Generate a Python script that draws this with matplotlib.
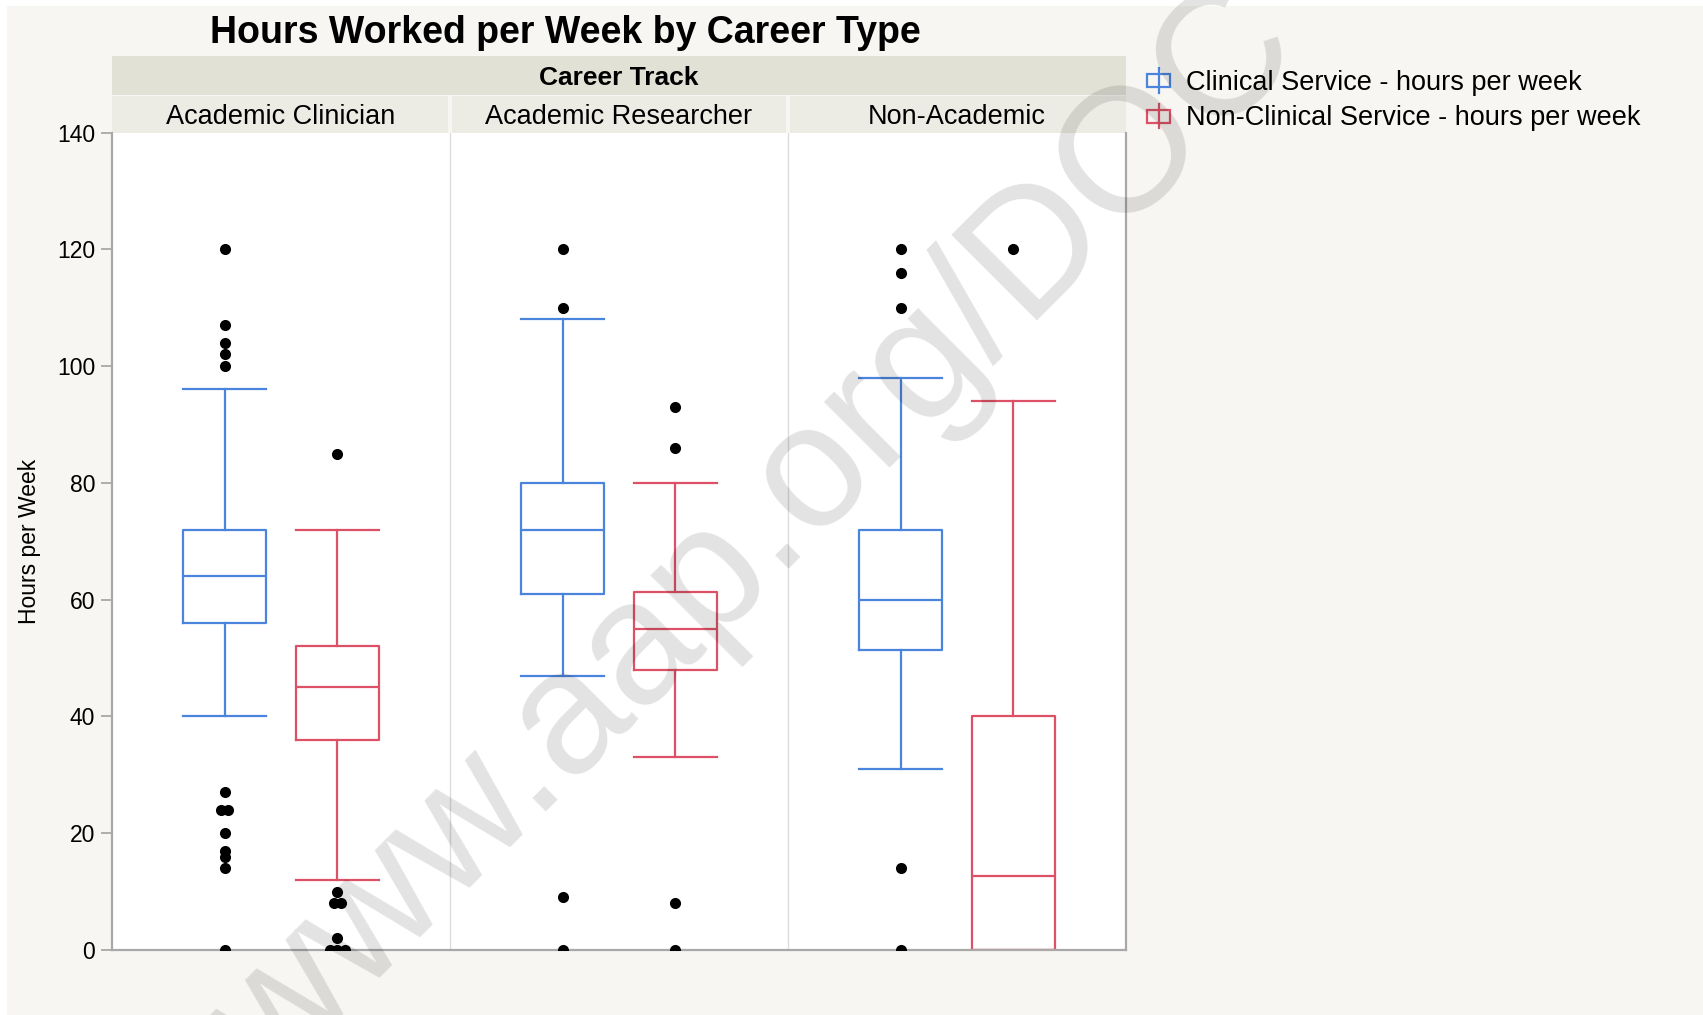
import matplotlib
matplotlib.use("Agg")
import matplotlib.pyplot as plt
import matplotlib.transforms as mtransforms
from matplotlib.patches import Rectangle
from matplotlib.lines import Line2D
from matplotlib.legend_handler import HandlerBase

plt.rcParams['font.family'] = ['Liberation Sans', 'DejaVu Sans']

# ---------------- data ----------------
title = "Hours Worked per Week by Career Type"
strip_title = "Career Track"
careers = ["Academic Clinician", "Academic Researcher", "Non-Academic"]
series_names = ["Clinical Service - hours per week",
                "Non-Clinical Service - hours per week"]
y_label = "Hours per Week"
y_ticks = [0, 20, 40, 60, 80, 100, 120, 140]

clinical_whislo = [40, 47, 31]
clinical_q1 = [56, 61, 51.3]
clinical_med = [64, 72, 60]
clinical_q3 = [72, 80, 72]
clinical_whishi = [96, 108, 98]
clinical_outliers = [
    [120, 107, 104, 102, 100, 27, 24, 24, 20, 17, 16, 14, 0],
    [120, 110, 9, 0],
    [120, 116, 110, 14, 0],
]

nonclinical_whislo = [12, 33, 0]
nonclinical_q1 = [36, 48, 0]
nonclinical_med = [45, 55, 12.6]
nonclinical_q3 = [52, 61.3, 40]
nonclinical_whishi = [72, 80, 94]
nonclinical_outliers = [
    [85, 10, 8, 8, 2, 0, 0, 0],
    [93, 86, 8, 0],
    [120],
]

colors = ["#4a84dc", "#dc5166"]

# ---------------- figure ----------------
W, H = 1703, 1015
fig = plt.figure(figsize=(W / 100, H / 100), dpi=100, facecolor="white")
fig.patches.append(Rectangle((7 / W, 0), 1 - 7 / W, 1 - 6 / H,
                             transform=fig.transFigure, facecolor="#f7f6f2",
                             edgecolor="none", zorder=-10))

ax_left, ax_right, ax_top, ax_bot = 112, 1126, 132.5, 950
ax = fig.add_axes([ax_left / W, (H - ax_bot) / H,
                   (ax_right - ax_left) / W, (ax_bot - ax_top) / H])
ax.set_facecolor("white")

n_panels = len(careers)
panel_w = 3.0
box_w = 0.74

groups = [
    (clinical_whislo, clinical_q1, clinical_med, clinical_q3, clinical_whishi, clinical_outliers),
    (nonclinical_whislo, nonclinical_q1, nonclinical_med, nonclinical_q3, nonclinical_whishi, nonclinical_outliers),
]

for s, (wlo, q1, med, q3, whi, outs) in enumerate(groups):
    stats = []
    positions = []
    for i in range(n_panels):
        stats.append(dict(whislo=wlo[i], q1=q1[i], med=med[i], q3=q3[i],
                          whishi=whi[i], fliers=[]))
        positions.append(i * panel_w + 1 + s)
    c = colors[s]
    lp = dict(color=c, linewidth=1.6)
    ax.bxp(stats, positions=positions, widths=box_w, capwidths=box_w,
           showfliers=False, boxprops=lp, whiskerprops=lp, capprops=lp,
           medianprops=lp, manage_ticks=False)
    # outliers, duplicates spread slightly sideways
    for i in range(n_panels):
        vals = outs[i]
        xs, ys = [], []
        for v in sorted(set(vals)):
            n = vals.count(v)
            for k in range(n):
                xs.append(positions[i] + (k - (n - 1) / 2) * 0.065)
                ys.append(v)
        ax.scatter(xs, ys, s=64, color="black", zorder=4, linewidths=0)

ax.set_xlim(0, n_panels * panel_w)
ax.set_ylim(0, 140)
ax.set_yticks(y_ticks)
ax.set_xticks([])
for p in range(1, n_panels):
    ax.axvline(p * panel_w, color="#dcdcdc", linewidth=1, zorder=0)

for sp in ["left", "bottom", "right"]:
    ax.spines[sp].set_color("#a8a8a8")
    ax.spines[sp].set_linewidth(1.6)
ax.spines["top"].set_visible(False)
ax.tick_params(axis="y", length=8, width=1.3, color="#a8a8a8",
               labelsize=16.5, pad=4)

ax.set_ylabel(y_label, fontsize=16.5)
ax.yaxis.label.set_verticalalignment("center")
ax.yaxis.set_label_coords((30 - ax_left) / (ax_right - ax_left), 0.5)

# ---------------- strip headers ----------------
ah = ax_bot - ax_top
def ay(px):
    return (ax_bot - px) / ah

blend = mtransforms.blended_transform_factory(ax.transData, ax.transAxes)
gap = 0.02
for i, name in enumerate(careers):
    x0 = i * panel_w + (gap if i > 0 else 0)
    x1 = (i + 1) * panel_w - (gap if i < n_panels - 1 else 0)
    ax.add_patch(Rectangle((x0, ay(ax_top)), x1 - x0, ay(95.5) - ay(ax_top),
                           transform=blend, facecolor="#ecebe4",
                           edgecolor="none", clip_on=False))
    ax.text(i * panel_w + panel_w / 2, ay(123.5), name, transform=blend,
            ha="center", va="baseline", fontsize=19.5)
ax.add_patch(Rectangle((0, ay(94.5)), 1, ay(56) - ay(94.5),
                       transform=ax.transAxes, facecolor="#e2e1d6",
                       edgecolor="none", clip_on=False))
ax.text(0.5, ay(85), strip_title, transform=ax.transAxes, ha="center",
        va="baseline", fontsize=19, fontweight="bold")

fig.text(565 / W, 1 - 43 / H, title, ha="center", va="baseline",
         fontsize=27, fontweight="bold")

# ---------------- legend ----------------
class HandlerBoxIcon(HandlerBase):
    def create_artists(self, legend, orig_handle, xdescent, ydescent,
                       width, height, fontsize, trans):
        c = orig_handle.get_color()
        cx = width / 2 - xdescent
        cy = height / 2 - ydescent
        rh = 0.48 * fontsize
        wh = 0.92 * fontsize
        rect = Rectangle((cx - width / 2, cy - rh / 2), width, rh,
                         facecolor="none", edgecolor=c, linewidth=1.6,
                         transform=trans)
        line = Line2D([cx, cx], [cy - wh / 2, cy + wh / 2], color=c,
                      linewidth=1.6, transform=trans)
        return [line, rect]

handles = [Line2D([], [], color=c) for c in colors]
fig.legend(handles, series_names, handler_map={Line2D: HandlerBoxIcon()},
           loc="upper left", bbox_to_anchor=(1147 / W, 1 - 70 / H),
           frameon=False, fontsize=19.5, handlelength=0.85,
           handletextpad=0.6, labelspacing=0.35, borderpad=0,
           borderaxespad=0)

# ---------------- watermark ----------------
fig.text(272 / W, 1 - 1086 / H, "www.aap.org/DOC", rotation=45,
         rotation_mode="anchor", ha="left", va="baseline", fontsize=127,
         color="black", alpha=0.115, zorder=100)

fig.savefig("out.png", dpi=100, facecolor=fig.get_facecolor())
